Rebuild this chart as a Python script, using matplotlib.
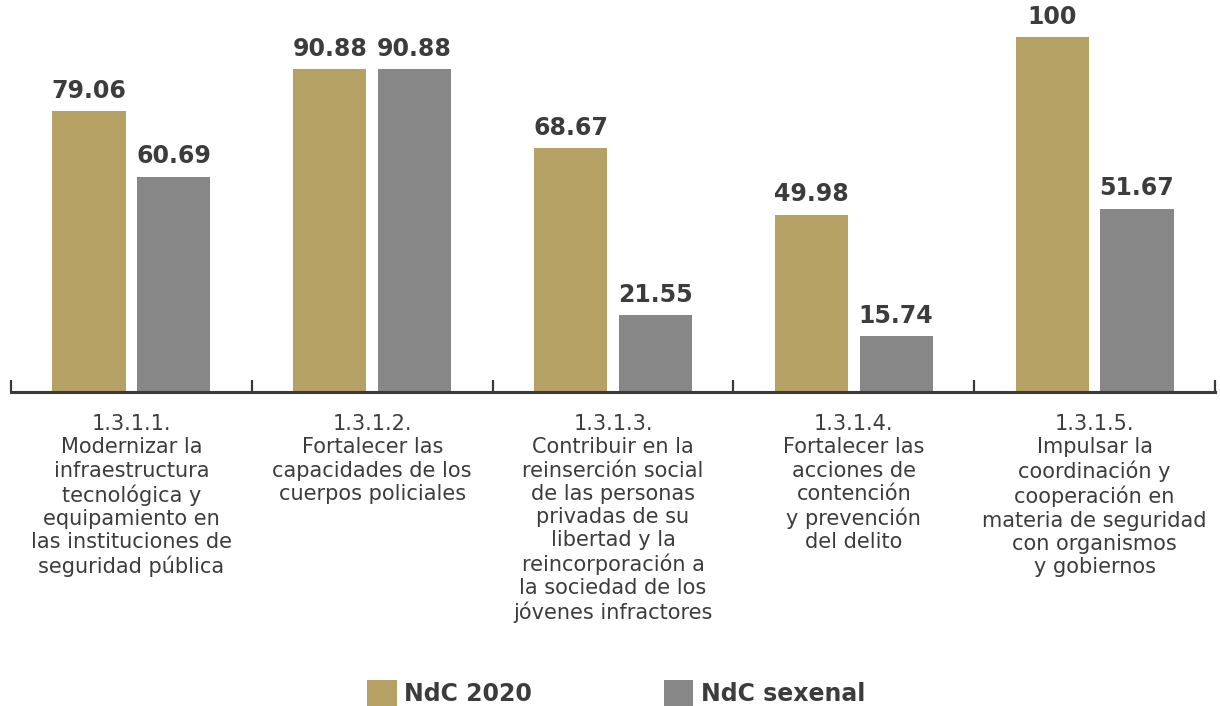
import matplotlib
matplotlib.use("Agg")
import matplotlib.pyplot as plt
from matplotlib.patches import Patch
import numpy as np

categories = [
    "1.3.1.1.\nModernizar la\ninfraestructura\ntecnológica y\nequipamiento en\nlas instituciones de\nseguridad pública",
    "1.3.1.2.\nFortalecer las\ncapacidades de los\ncuerpos policiales",
    "1.3.1.3.\nContribuir en la\nreinserción social\nde las personas\nprivadas de su\nlibertad y la\nreincorporación a\nla sociedad de los\njóvenes infractores",
    "1.3.1.4.\nFortalecer las\nacciones de\ncontención\ny prevención\ndel delito",
    "1.3.1.5.\nImpulsar la\ncoordinación y\ncooperación en\nmateria de seguridad\ncon organismos\ny gobiernos",
]
ndc_2020 = [79.06, 90.88, 68.67, 49.98, 100]
ndc_sexenal = [60.69, 90.88, 21.55, 15.74, 51.67]
value_labels_2020 = ["79.06", "90.88", "68.67", "49.98", "100"]
value_labels_sexenal = ["60.69", "90.88", "21.55", "15.74", "51.67"]
series_names = ["NdC 2020", "NdC sexenal"]

GOLD = "#B6A165"
GRAY = "#878787"
TEXT = "#3C3C3C"

plt.rcParams["font.family"] = ["DejaVu Sans"]

fig = plt.figure(figsize=(12.2, 7.06), dpi=100)
fig.patch.set_facecolor("white")
W, H = 1220, 706
ax = fig.add_axes([11 / W, 1 - 392 / H, (1215 - 11) / W, 392 / H])

x = np.arange(len(categories))
bw = 0.304
off = 0.176
ax.bar(x - off, ndc_2020, width=bw, color=GOLD, zorder=2)
ax.bar(x + off, ndc_sexenal, width=bw, color=GRAY, zorder=2)

for xi, v, s in zip(x, ndc_2020, value_labels_2020):
    ax.annotate(s, (xi - off, v), xytext=(0, 6), textcoords="offset points",
                ha="center", va="bottom", fontsize=17, fontweight="bold", color=TEXT)
for xi, v, s in zip(x, ndc_sexenal, value_labels_sexenal):
    ax.annotate(s, (xi + off, v), xytext=(0, 6), textcoords="offset points",
                ha="center", va="bottom", fontsize=17, fontweight="bold", color=TEXT)

ax.set_xlim(-0.5, 4.5)
ax.set_ylim(0, 392 / 355 * 100)

for sp in ["top", "left", "right"]:
    ax.spines[sp].set_visible(False)
ax.spines["bottom"].set_color("#3A3A3A")
ax.spines["bottom"].set_linewidth(2.2)
ax.set_yticks([])

ax.set_xticks(np.arange(-0.5, 5.0, 1.0))
ax.set_xticklabels([])
ax.tick_params(axis="x", which="major", direction="in", length=9, width=1.6, color="#3A3A3A")
ax.set_xticks(x, minor=True)
ax.set_xticklabels(categories, minor=True, fontsize=15, color=TEXT, linespacing=1.2)
ax.tick_params(axis="x", which="minor", length=0, pad=16)

handles = [Patch(facecolor=GOLD, edgecolor="none"), Patch(facecolor=GRAY, edgecolor="none")]
leg = fig.legend(handles, series_names, loc="lower center", bbox_to_anchor=(0.505, -0.03),
                 ncol=2, frameon=False, handlelength=1.25, handleheight=1.3,
                 handletextpad=0.3, columnspacing=5.6,
                 prop={"size": 17, "weight": "bold"})
for t in leg.get_texts():
    t.set_color(TEXT)

fig.savefig("out.png", dpi=100, facecolor="white")
